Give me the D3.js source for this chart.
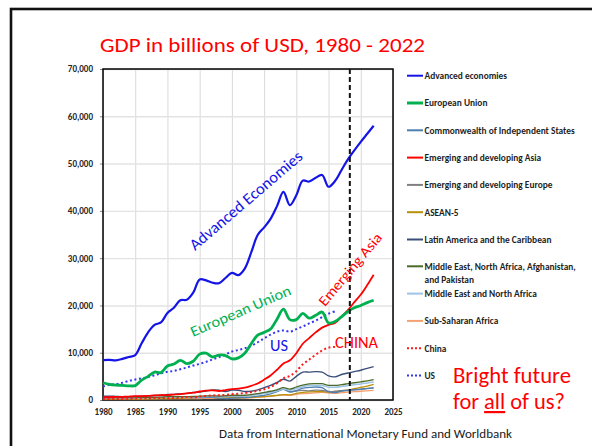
<!DOCTYPE html>
<html><head><meta charset="utf-8">
<script src="https://cdn.jsdelivr.net/npm/d3@7"></script>
<style>body{margin:0;background:#fff}svg{display:block}</style>
</head><body><svg id="c" width="592" height="446"></svg>
<script>
// ---------- DATA (billions of USD) ----------
const years = d3.range(1980, 2023);          // 1980 .. 2022
const yearsShort = d3.range(1980, 2017);     // 1980 .. 2016
const xTicks = [1980,1985,1990,1995,2000,2005,2010,2015,2020,2025];
const yTicks = [0,10000,20000,30000,40000,50000,60000,70000];
const forecastStart = 2018.3;

const advanced = [8450,8500,8400,8700,9100,9500,12000,14300,15900,16400,18400,19500,21100,21200,22700,25500,25300,24800,24700,25800,26900,26400,27800,31200,34900,36500,38300,41000,44000,41200,43300,46400,46200,47000,47600,45100,46300,48600,50900,52800,54600,56300,58000];
const europeanUnion = [3650,3300,3150,3100,3000,3050,4200,5000,5900,5800,7200,7600,8400,7700,8200,9700,9900,9100,9500,9400,8700,8900,9900,11900,13700,14300,15000,17100,19200,17000,17000,18300,17300,17900,18600,16300,16600,17600,18700,19500,20000,20600,21100];
const cis = [null,null,null,null,null,null,null,null,null,null,null,null,650,560,520,500,540,560,420,300,380,460,520,620,800,1000,1300,1750,2250,1650,2000,2500,2650,2750,2600,1750,1550,1900,2000,2150,2250,2400,2550];
const emergingAsia = [600,620,640,680,720,800,830,880,980,1050,1050,1150,1250,1400,1550,1800,2000,2050,1900,2100,2300,2400,2600,3000,3500,4300,5200,6400,7700,8400,9900,11900,13100,14300,15300,15900,16300,17600,19000,20700,22300,24300,26500];
const emergingEurope = [400,400,380,370,380,400,450,500,540,560,620,560,560,600,540,650,700,740,780,720,760,700,800,1000,1250,1450,1650,2000,2250,1800,1900,2050,1950,2100,2050,1800,1850,2000,2100,2200,2300,2450,2550];
const asean5 = [200,210,215,220,220,210,200,220,250,280,320,360,400,450,500,600,650,620,400,450,500,480,520,580,650,720,850,1000,1150,1100,1400,1600,1700,1750,1750,1650,1750,1900,2100,2400,2650,2950,3300];
const latinAmerica = [800,820,760,700,720,760,800,870,950,1000,1150,1200,1300,1400,1600,1700,1900,2100,2050,1800,2100,2050,1800,1850,2150,2600,3100,3700,4400,4000,5000,5900,5900,6000,5900,5100,4900,5400,5700,6000,6300,6700,7050];
const menaap = [650,650,630,620,610,600,560,560,570,600,700,700,730,730,740,800,860,880,840,900,1000,1000,1000,1150,1350,1600,1850,2150,2600,2300,2750,3150,3400,3450,3450,3100,3100,3250,3450,3650,3850,4050,4300];
const mena = [550,560,540,530,520,510,470,470,480,510,600,600,620,620,630,680,730,750,710,760,850,850,850,980,1150,1400,1600,1900,2350,2050,2450,2800,3050,3050,3050,2700,2700,2850,3050,3250,3400,3600,3800];
const subSaharan = [300,290,280,260,250,240,250,270,280,290,320,320,310,300,290,320,340,360,340,330,360,360,380,470,580,680,790,920,1030,980,1200,1330,1400,1500,1620,1480,1400,1550,1650,1750,1850,1950,2050];
const china = [191,196,205,231,260,309,301,327,408,457,396,414,492,619,564,734,864,962,1029,1094,1211,1339,1471,1660,1955,2286,2752,3550,4594,5102,6087,7552,8532,9570,10476,11062,11233];
const us = [2857,3207,3344,3634,4037,4339,4580,4855,5236,5642,5963,6158,6520,6859,7287,7640,8073,8578,9063,9631,10252,10582,10936,11458,12214,13037,13815,14452,14713,14449,14992,15543,16197,16785,17527,18238,18745];

const legendNames = ["Advanced economies","European Union","Commonwealth of Independent States","Emerging and developing Asia","Emerging and developing Europe","ASEAN-5","Latin America and the Caribbean",["Middle East, North Africa, Afghanistan,","and Pakistan"],"Middle East and North Africa","Sub-Saharan Africa","China","US"];

// ---------- STYLE ----------
const seriesList = [
  {name:legendNames[0], vals:advanced, yrs:years, color:"#1414e6", w:2.2},
  {name:legendNames[1], vals:europeanUnion, yrs:years, color:"#00b050", w:2.8},
  {name:legendNames[2], vals:cis, yrs:years, color:"#4f7fb0", w:1.3},
  {name:legendNames[3], vals:emergingAsia, yrs:years, color:"#ff0000", w:1.8},
  {name:legendNames[4], vals:emergingEurope, yrs:years, color:"#7f7f7f", w:1.3},
  {name:legendNames[5], vals:asean5, yrs:years, color:"#b8900a", w:1.3},
  {name:legendNames[6], vals:latinAmerica, yrs:years, color:"#3b4e78", w:1.4},
  {name:legendNames[7], vals:menaap, yrs:years, color:"#4a6b2a", w:1.3},
  {name:legendNames[8], vals:mena, yrs:years, color:"#9dc3e6", w:1.5},
  {name:legendNames[9], vals:subSaharan, yrs:years, color:"#f4a070", w:1.3},
  {name:legendNames[10], vals:china, yrs:yearsShort, color:"#ff1a1a", w:2, dash:"2,2.6"},
  {name:legendNames[11], vals:us, yrs:yearsShort, color:"#3535f0", w:2, dash:"2,2.6"}
];
const drawOrder = [9,5,4,2,8,7,6,3,10,11,1,0];

const svg = d3.select("#c");
const font = "Carlito, Lato, 'Open Sans', sans-serif";

// outer frame
svg.append("rect").attr("x",11).attr("y",9).attr("width",620).attr("height",470)
  .attr("fill","none").attr("stroke","#111").attr("stroke-width",2.6);

const x = d3.scaleLinear().domain([1980,2025]).range([103,393]);
const y = d3.scaleLinear().domain([0,70000]).range([400,69]);

// gridlines
svg.append("g").attr("transform","translate(0,400)")
  .call(d3.axisBottom(x).tickValues(xTicks).tickSize(-331).tickFormat(""))
  .call(g=>g.select(".domain").remove())
  .call(g=>g.selectAll("line").attr("stroke","#d9d9d9").attr("stroke-width",1));
svg.append("g").attr("transform","translate(103,0)")
  .call(d3.axisLeft(y).tickValues(yTicks).tickSize(-290).tickFormat(""))
  .call(g=>g.select(".domain").remove())
  .call(g=>g.selectAll("line").attr("stroke","#e3e3e3").attr("stroke-width",1.4));

// axes labels
const yAx = svg.append("g").attr("transform","translate(103,0)")
  .call(d3.axisLeft(y).tickValues(yTicks).tickSize(3).tickPadding(7).tickFormat(d3.format(",")));
yAx.select(".domain").remove();
yAx.selectAll("line").attr("stroke","#888");
yAx.selectAll("text").attr("font-family",font).attr("font-size",9).attr("font-weight","bold").attr("fill","#262626");

const xAx = svg.append("g").attr("transform","translate(0,400)")
  .call(d3.axisBottom(x).tickValues(xTicks).tickSize(0).tickPadding(9).tickFormat(d3.format("d")));
xAx.select(".domain").remove();
xAx.selectAll("text").attr("font-family",font).attr("font-size",9).attr("font-weight","bold").attr("fill","#262626");

// plot border
svg.append("rect").attr("x",103).attr("y",69).attr("width",290).attr("height",331)
  .attr("fill","none").attr("stroke","#000").attr("stroke-width",1.5);

// series
const line = d3.line().defined(d=>d[1]!=null).x(d=>x(d[0])).y(d=>y(d[1])).curve(d3.curveCatmullRom.alpha(0.5));
drawOrder.forEach(i=>{
  const s = seriesList[i];
  svg.append("path").datum(s.yrs.map((yr,k)=>[yr,s.vals[k]]))
    .attr("d",line).attr("fill","none").attr("stroke",s.color).attr("stroke-width",s.w)
    .attr("stroke-dasharray",s.dash||null).attr("stroke-linejoin","round");
});

// forecast line
svg.append("line").attr("x1",x(forecastStart)).attr("x2",x(forecastStart)).attr("y1",y(70000)).attr("y2",y(0))
  .attr("stroke","#111").attr("stroke-width",2).attr("stroke-dasharray","5,3");

// legend
const leg = svg.append("g");
seriesList.forEach((s,i)=>{
  const cy = 75.7 + i*27.3 - (i>=7?0.5:0);
  leg.append("line").attr("x1",407).attr("x2",423).attr("y1",cy).attr("y2",cy)
    .attr("stroke",s.color).attr("stroke-width",s.dash?2:(i===1?3:2)).attr("stroke-dasharray",s.dash?"2,2":null);
  const t = leg.append("text").attr("x",424.5).attr("y",cy+3.3).attr("font-family",font)
    .attr("font-size",9.4).attr("font-weight","bold").attr("fill","#1f1f1f");
  if (Array.isArray(s.name)) {
    t.append("tspan").text(s.name[0]);
    t.append("tspan").attr("x",424.5).attr("dy",13).text(s.name[1]);
  } else t.text(s.name);
});

// title & annotations
svg.append("text").attr("x",100).attr("y",52).attr("font-family",font).attr("font-size",20)
  .attr("fill","#ff0000").attr("textLength",325).attr("lengthAdjust","spacingAndGlyphs")
  .text("GDP in billions of USD, 1980 - 2022");

function rot(txt,x0,y0,ang,size,color,len){
  svg.append("text").attr("transform",`translate(${x0},${y0}) rotate(${ang})`)
    .attr("font-family",font).attr("font-size",size).attr("fill",color)
    .attr("textLength",len).attr("lengthAdjust","spacingAndGlyphs").text(txt);
}
rot("Advanced Economies",195,251,-40.5,16,"#1414e6",143);
rot("European Union",193,337,-23.3,15,"#00b050",108);
rot("Emerging Asia",325,307,-50,14.5,"#ff0000",90);
rot("US",270,351,0,17,"#1414e6",18);
rot("CHINA",335,348,0,16,"#ff0000",43);

const bf = svg.append("g").attr("font-family",font).attr("font-size",22).attr("fill","#ff0000");
bf.append("text").attr("x",453).attr("y",383).attr("textLength",118).attr("lengthAdjust","spacingAndGlyphs").text("Bright future");
const l2 = bf.append("text").attr("x",453).attr("y",409).attr("textLength",112).attr("lengthAdjust","spacingAndGlyphs");
l2.append("tspan").text("for ");
l2.append("tspan").style("text-decoration","underline").text("all");
l2.append("tspan").text(" of us?");

svg.append("text").attr("x",219).attr("y",438).attr("font-family",font).attr("font-size",13)
  .attr("fill","#1a1a1a").attr("textLength",293).attr("lengthAdjust","spacingAndGlyphs")
  .text("Data from International Monetary Fund and Worldbank");
</script></body></html>
